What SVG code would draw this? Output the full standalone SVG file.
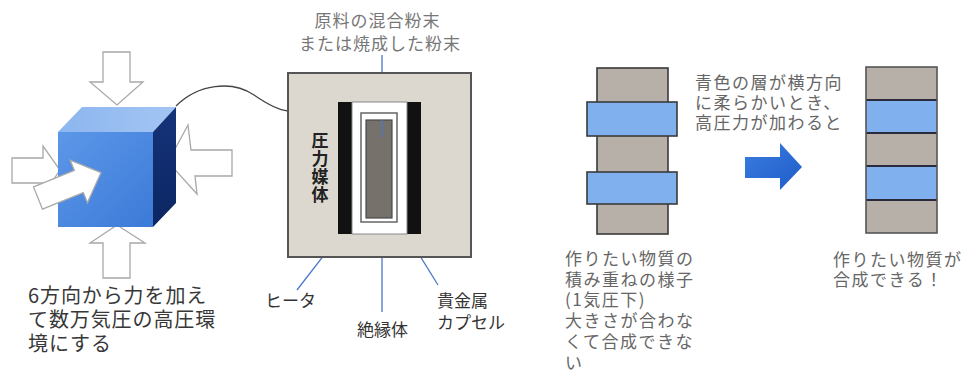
<svg xmlns="http://www.w3.org/2000/svg" width="963" height="379" viewBox="0 0 963 379">
  <style>
    .jp { font-family: "Noto Sans CJK JP", "Noto Sans", sans-serif; }
    .big { font-size: 20px; fill: #383838; letter-spacing: 0.9px; }
    .lbl { font-size: 17px; fill: #333; }
    .gray { font-size: 17px; fill: #777; letter-spacing: 1px; }
    .note { font-size: 17px; fill: #666; letter-spacing: 1.5px; }
    .push { fill: #fff; stroke: #a8a8a8; stroke-width: 1.3; stroke-linejoin: miter; }
    .lead { stroke: #4a78c8; stroke-width: 1.3; fill: none; }
    .layer { stroke: #3a3a3a; stroke-width: 1.6; }
  </style>
  <defs>
    <linearGradient id="gFront" x1="0" y1="0" x2="1" y2="1">
      <stop offset="0" stop-color="#5c97e8"/>
      <stop offset="1" stop-color="#3c7ad8"/>
    </linearGradient>
    <linearGradient id="gTop" x1="0" y1="0" x2="1" y2="0">
      <stop offset="0" stop-color="#8cb6ef"/>
      <stop offset="1" stop-color="#a3c5f3"/>
    </linearGradient>
    <linearGradient id="gSide" x1="0" y1="0" x2="0" y2="1">
      <stop offset="0" stop-color="#15337a"/>
      <stop offset="1" stop-color="#0c2662"/>
    </linearGradient>
    <linearGradient id="gArrow" x1="0" y1="0" x2="1" y2="1">
      <stop offset="0" stop-color="#3a7de0"/>
      <stop offset="1" stop-color="#1f5cc8"/>
    </linearGradient>
  </defs>

  <!-- wire from the cube to the cell, and the label leader lines -->
  <g id="connectors">
    <path d="M176,106 C198,84 232,80 254,95 C267,104 278,110 288,111" fill="none" stroke="#444" stroke-width="1.3"/>
    <line class="lead" x1="382" y1="55" x2="382" y2="137"/>
    <line class="lead" x1="348" y1="224" x2="297" y2="290"/>
    <line class="lead" x1="382" y1="235" x2="382" y2="312"/>
    <line class="lead" x1="399" y1="222" x2="438" y2="285"/>
  </g>

  <!-- cube pressed from six directions -->
  <g id="cube">
    <path class="push" d="M12,158 H43 V146 L60,170 L43,195 V183 H12 Z"/>
    <path class="push" d="M232,150 H191 L188,125 L168,162 L197,194 L195,176 H232 Z"/>
    <path class="push" d="M103,52 H130 V82 H143 L117,105 L90,82 H103 Z"/>
    <path class="push" d="M117,225 L145,243 H130 V278 H103 V243 H90 Z"/>
    <polygon points="58,132 153,132 176,107 82,107" fill="url(#gTop)"/>
    <rect x="58" y="132" width="95" height="95" fill="url(#gFront)"/>
    <polygon points="153,132 176,107 176,203 153,227" fill="url(#gSide)"/>
    <path class="push" transform="translate(38,198) rotate(-22)" d="M0,-12 H44 V-23 L68,0 L44,23 V12 H0 Z"/>
  </g>
  <g id="cube-caption">
    <text class="jp big">
      <tspan x="28" y="303">6方向から力を加え</tspan>
      <tspan x="28" y="327">て数万気圧の高圧環</tspan>
      <tspan x="28" y="351">境にする</tspan>
    </text>
  </g>

  <!-- high-pressure cell cross-section -->
  <g id="cell">
    <rect x="288" y="73" width="183" height="184" fill="#dcd8d0" stroke="#555" stroke-width="2"/>
    <rect x="338" y="102" width="14" height="132" fill="#111"/>
    <rect x="407" y="102" width="14" height="132" fill="#111"/>
    <rect x="352" y="102" width="55" height="132" fill="#fff" stroke="#888" stroke-width="1"/>
    <rect x="361" y="113" width="36" height="109" fill="#fff" stroke="#666" stroke-width="1.5"/>
    <rect x="366" y="120" width="26" height="98" fill="#77716c" stroke="#4a4a4a" stroke-width="1.2"/>
    <line class="lead" x1="382" y1="120" x2="382" y2="137"/>
    <text class="jp" x="320" y="132" writing-mode="vertical-rl" font-size="17" font-weight="bold" fill="#222" letter-spacing="1">圧力媒体</text>
  </g>
  <g id="cell-labels">
    <text class="jp gray" text-anchor="middle">
      <tspan x="380" y="27">原料の混合粉末</tspan>
      <tspan x="380" y="50">または焼成した粉末</tspan>
    </text>
    <text class="jp lbl" x="265" y="307">ヒータ</text>
    <text class="jp lbl" x="357" y="336">絶縁体</text>
    <text class="jp lbl">
      <tspan x="437" y="307">貴金属</tspan>
      <tspan x="437" y="329">カプセル</tspan>
    </text>
  </g>

  <!-- layered stack at 1 atm -->
  <g id="stack-before">
    <rect class="layer" x="597" y="68" width="71" height="166" fill="#b6b0a8"/>
    <rect class="layer" x="587" y="102" width="90" height="34" fill="#80b0ee"/>
    <rect class="layer" x="587" y="172" width="90" height="32" fill="#80b0ee"/>
  </g>
  <g id="stack-before-caption">
    <text class="jp note">
      <tspan x="565" y="265">作りたい物質の</tspan>
      <tspan x="565" y="286">積み重ねの様子</tspan>
      <tspan x="565" y="306">(1気圧下)</tspan>
      <tspan x="565" y="327">大きさが合わな</tspan>
      <tspan x="565" y="348">くて合成できな</tspan>
      <tspan x="565" y="369">い</tspan>
    </text>
  </g>

  <!-- transition arrow -->
  <g id="transition">
    <path d="M745,157 H780 V143 L802,167 L780,190 V178 H745 Z" fill="url(#gArrow)"/>
  </g>
  <g id="transition-caption">
    <text class="jp note">
      <tspan x="695" y="89">青色の層が横方向</tspan>
      <tspan x="695" y="109">に柔らかいとき、</tspan>
      <tspan x="695" y="129">高圧力が加わると</tspan>
    </text>
  </g>

  <!-- synthesized stack -->
  <g id="stack-after">
    <rect x="866" y="67" width="71" height="166" fill="#b6b0a8"/>
    <rect x="866" y="100" width="71" height="33" fill="#80b0ee"/>
    <rect x="866" y="166" width="71" height="34" fill="#80b0ee"/>
    <g stroke="#2a2a3a" stroke-width="2">
      <line x1="866" y1="100" x2="937" y2="100"/>
      <line x1="866" y1="133" x2="937" y2="133"/>
      <line x1="866" y1="166" x2="937" y2="166"/>
      <line x1="866" y1="200" x2="937" y2="200"/>
    </g>
    <rect x="866" y="67" width="71" height="166" fill="none" stroke="#555" stroke-width="1.6"/>
  </g>
  <g id="stack-after-caption">
    <text class="jp note">
      <tspan x="833" y="266">作りたい物質が</tspan>
      <tspan x="833" y="286">合成できる！</tspan>
    </text>
  </g>
</svg>
